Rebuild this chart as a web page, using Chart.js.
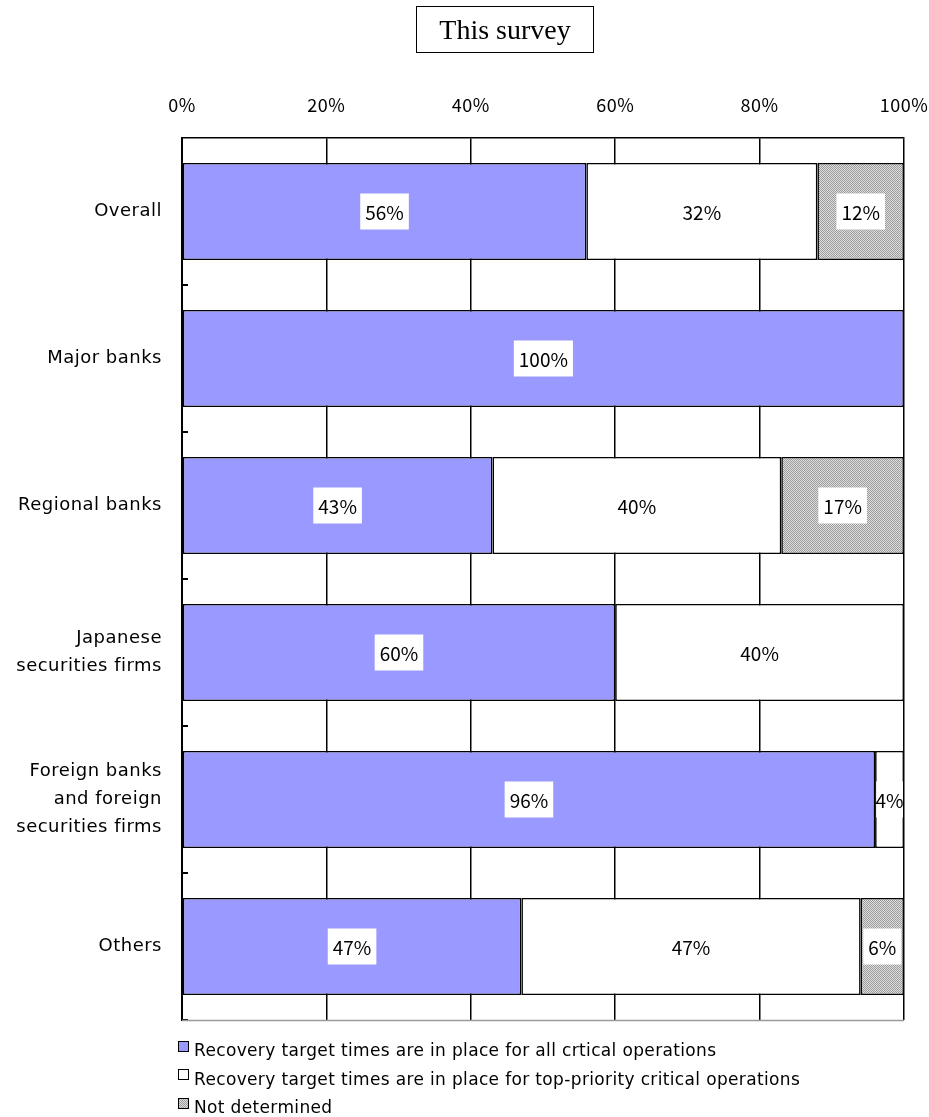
<!DOCTYPE html>
<html>
<head>
<meta charset="utf-8">
<script src="https://cdn.jsdelivr.net/npm/chart.js@4.4.1/dist/chart.umd.min.js"></script>
<style>
  html, body { margin: 0; padding: 0; background: #fff; }
  #wrap { position: relative; width: 929px; height: 1117px; }
  #chart { position: absolute; left: 0; top: 0; }
  #title {
    position: absolute; left: 416px; top: 6px; width: 176px; height: 45px;
    border: 1.5px solid #000; box-sizing: content-box;
    font-family: "Liberation Serif", "Times New Roman", serif; font-size: 28px;
    line-height: 45px; text-align: center; color: #000;
  }
  #legend {
    position: absolute; left: 178px; top: 1036px;
    font-family: "DejaVu Sans", sans-serif; font-size: 17px; letter-spacing: 0.35px; color: #000;
  }
  #legend .item { height: 28.5px; display: flex; align-items: center; }
  #legend .sw { width: 9px; height: 9px; border: 1px solid #000; margin-right: 5px; margin-top: -8px; }
</style>
</head>
<body>
<div id="wrap">
  <canvas id="chart" width="929" height="1117"></canvas>
  <div id="title">This survey</div>
  <div id="legend"></div>
</div>
<script>
// Respondent groups (top to bottom) and share of each answer, in percent
const categories = [
  "Overall",
  "Major banks",
  "Regional banks",
  ["Japanese", "securities firms"],
  ["Foreign banks", "and foreign", "securities firms"],
  "Others"
];
const allCritical = [56, 100, 43, 60, 96, 47];
const topPriority = [32, 0, 40, 40, 4, 47];
const notDetermined = [12, 0, 17, 0, 0, 6];
const seriesNames = [
  "Recovery target times are in place for all crtical operations",
  "Recovery target times are in place for top-priority critical operations",
  "Not determined"
];
const xTicks = [0, 20, 40, 60, 80, 100];

const LABEL_FONT = '"DejaVu Sans", sans-serif';
const NUM_FONT = '"Noto Sans CJK JP", "Noto Sans", sans-serif';

// Fine grey dither used for the "not determined" segments
function makeDither() {
  const c = document.createElement('canvas');
  c.width = 4; c.height = 4;
  const g = c.getContext('2d');
  g.fillStyle = '#dedede';
  g.fillRect(0, 0, 4, 4);
  g.fillStyle = '#9c9c9c';
  for (let i = 0; i < 4; i++) {
    g.fillRect(i, i, 1, 1);
    g.fillRect((i + 2) % 4, i, 1, 1);
  }
  return c;
}
const ditherCanvas = makeDither();
const ditherPattern = document.getElementById('chart').getContext('2d').createPattern(ditherCanvas, 'repeat');

const fills = ['#9999ff', '#ffffff', ditherPattern];

// Slightly open letter spacing for the axis text
const spacing = {
  id: 'spacing',
  beforeDraw(chart) { chart.ctx.letterSpacing = '0.5px'; },
  afterDraw(chart) { chart.ctx.letterSpacing = '0px'; }
};

// White-boxed percentage labels in the middle of each segment
const segmentLabels = {
  id: 'segmentLabels',
  afterDatasetsDraw(chart) {
    const ctx = chart.ctx;
    ctx.save();
    ctx.letterSpacing = '0px';
    ctx.font = '19px ' + NUM_FONT;
    ctx.textAlign = 'center';
    ctx.textBaseline = 'middle';
    chart.data.datasets.forEach((ds, di) => {
      const meta = chart.getDatasetMeta(di);
      meta.data.forEach((bar, i) => {
        const v = ds.data[i];
        if (!v) return;
        const cx = (bar.x + bar.base) / 2;
        const cy = bar.y;
        const text = v + '%';
        const w = ctx.measureText(text).width;
        const bw = Math.min(w + 10, Math.abs(bar.x - bar.base) - 2);
        ctx.fillStyle = '#fff';
        ctx.fillRect(cx - bw / 2, cy - 18, bw, 36);
        ctx.fillStyle = '#000';
        ctx.fillText(text, cx, cy + 1);
      });
    });
    ctx.restore();
  }
};

// Short inward tick marks on the category axis and the light lower frame
const frameTicks = {
  id: 'frameTicks',
  afterDraw(chart) {
    const ctx = chart.ctx;
    const y = chart.scales.y;
    const a = chart.chartArea;
    ctx.save();
    ctx.strokeStyle = '#000';
    ctx.lineWidth = 2;
    for (let i = 0; i < categories.length; i++) {
      const py = Math.round((y.getPixelForValue(i) + y.getPixelForValue(i + 1)) / 2);
      const yy = i === categories.length - 1 ? a.bottom : py;
      ctx.beginPath();
      ctx.moveTo(a.left, yy);
      ctx.lineTo(a.left + 6, yy);
      ctx.stroke();
    }
    ctx.strokeStyle = '#9a9a9a';
    ctx.lineWidth = 1.5;
    ctx.beginPath();
    ctx.moveTo(a.left, a.bottom + 0.5);
    ctx.lineTo(a.right, a.bottom + 0.5);
    ctx.stroke();
    ctx.restore();
  }
};

const chart = new Chart(document.getElementById('chart'), {
  type: 'bar',
  data: {
    labels: categories,
    datasets: [allCritical, topPriority, notDetermined].map((d, k) => ({
      label: seriesNames[k],
      data: d,
      backgroundColor: fills[k],
      borderColor: '#000',
      borderWidth: 1.6,
      borderSkipped: false,
      barPercentage: 1,
      categoryPercentage: 0.66
    }))
  },
  options: {
    indexAxis: 'y',
    responsive: false,
    animation: false,
    devicePixelRatio: 1,
    layout: { padding: { top: 94, right: 25, bottom: 97, left: 0 } },
    plugins: {
      legend: { display: false },
      tooltip: { enabled: false }
    },
    scales: {
      x: {
        position: 'top',
        stacked: true,
        min: 0,
        max: 100,
        afterBuildTicks(scale) { scale.ticks = xTicks.map(v => ({ value: v })); },
        afterFit(scale) {
          scale.height = 44;
          scale.paddingLeft = 0;
          scale.paddingRight = 0;
        },
        ticks: {
          padding: 22,
          color: '#000',
          font: { family: NUM_FONT, size: 18 },
          callback: v => v + '%'
        },
        grid: { color: '#000', lineWidth: 1.5, drawTicks: false },
        border: { display: true, color: '#000', width: 1.5 }
      },
      y: {
        stacked: true,
        afterFit(scale) { scale.width = 182; },
        ticks: {
          padding: 20,
          color: '#000',
          font: { family: LABEL_FONT, size: 18, lineHeight: 1.56 }
        },
        grid: { display: false, drawTicks: false },
        border: { display: true, color: '#000', width: 2 }
      }
    }
  },
  plugins: [spacing, segmentLabels, frameTicks]
});

// Legend: one entry per line, swatches taken from the datasets
const legendEl = document.getElementById('legend');
chart.data.datasets.forEach((ds, k) => {
  const row = document.createElement('div');
  row.className = 'item';
  const sw = document.createElement('span');
  sw.className = 'sw';
  if (k === 2) {
    sw.style.backgroundImage = 'url(' + ditherCanvas.toDataURL() + ')';
  } else {
    sw.style.background = ds.backgroundColor;
  }
  const tx = document.createElement('span');
  tx.textContent = ds.label;
  row.appendChild(sw);
  row.appendChild(tx);
  legendEl.appendChild(row);
});
</script>
</body>
</html>
